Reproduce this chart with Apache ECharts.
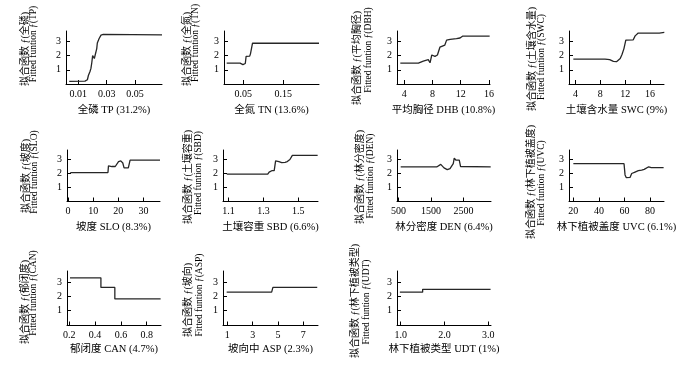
<!DOCTYPE html>
<html>
<head>
<meta charset="utf-8">
<script src="https://cdn.jsdelivr.net/npm/echarts@6/dist/echarts.min.js"></script>
<style>html,body{margin:0;padding:0;background:#fff;}#c{width:700px;height:370px;}</style>
</head>
<body>
<div id="c"></div>
<script>
// ---------- DATA ----------
const TP  = [[0.0036,0.18],[0.0147,0.2],[0.0164,0.3],[0.0171,0.6],[0.0183,0.9],[0.0189,1.1],[0.0195,1.5],[0.0201,2.0],[0.0208,2.05],[0.0213,1.8],[0.0218,1.9],[0.0224,1.8],[0.023,2.5],[0.0234,2.9],[0.0246,3.2],[0.026,3.45],[0.0276,3.5],[0.069,3.47]];
const TN  = [[0.0085,1.47],[0.042,1.47],[0.046,1.5],[0.049,1.37],[0.053,1.33],[0.055,1.45],[0.057,1.95],[0.066,1.97],[0.068,2.15],[0.071,2.2],[0.073,2.88],[0.239,2.88]];
const DBH = [[3.44,1.47],[6.0,1.47],[6.25,1.57],[6.7,1.62],[6.95,1.72],[7.4,1.72],[7.65,1.5],[7.9,2.05],[8.1,2.15],[8.35,1.95],[8.7,2.05],[8.85,1.95],[9.05,2.6],[9.3,2.65],[9.75,2.75],[10.0,3.1],[10.5,3.15],[11.4,3.2],[11.9,3.25],[12.25,3.38],[16.1,3.38]];
const SWC = [[3.65,1.76],[8.75,1.76],[9.5,1.72],[10.1,1.6],[10.6,1.58],[10.9,1.65],[11.2,1.8],[11.5,2.1],[11.8,2.5],[12.1,3.1],[13.3,3.12],[13.6,3.4],[14.1,3.6],[17.5,3.6],[18.3,3.65]];
const SLO = [[0.9,2.07],[15.9,2.07],[16.1,2.55],[16.8,2.55],[17.5,2.5],[18.1,2.45],[18.8,2.5],[19.4,2.6],[20.1,2.85],[21.0,2.9],[21.8,2.75],[22.3,2.4],[24.0,2.4],[24.7,2.95],[36.6,2.95]];
const SBD = [[1.09,1.95],[1.325,1.95],[1.333,2.1],[1.348,2.2],[1.362,2.2],[1.37,2.9],[1.38,3.0],[1.389,2.85],[1.405,2.78],[1.424,2.8],[1.437,2.85],[1.452,3.0],[1.458,3.05],[1.466,3.3],[1.611,3.3]];
const DEN = [[568,2.47],[1675,2.47],[1730,2.5],[1800,2.65],[1860,2.65],[1900,2.4],[1935,2.28],[2000,2.28],[2085,2.35],[2140,2.4],[2185,2.7],[2215,3.1],[2240,3.0],[2270,2.95],[2370,2.95],[2410,2.5],[3337,2.47]];
const UVC = [[20,2.7],[59.7,2.7],[60.5,1.9],[61.5,1.7],[64.4,1.72],[65.7,2.0],[68.3,2.1],[70.9,2.2],[73.5,2.25],[75.5,2.3],[77,2.42],[79,2.48],[81,2.42],[90.7,2.42]];
const CAN = [[0.205,3.32],[0.445,3.32],[0.445,2.64],[0.553,2.64],[0.553,1.82],[0.908,1.82]];
const ASP = [[0.95,2.3],[4.5,2.3],[4.6,2.64],[8.1,2.64]];
const UDT = [[0.98,2.3],[1.5,2.3],[1.5,2.5],[3.05,2.5]];

// tick labels
const tpTicks  = [0.01,0.03,0.05];
const tnTicks  = [0.05,0.15];
const dbhTicks = [4,8,12,16];
const swcTicks = [4,8,12,16];
const sloTicks = [0,10,20,30];
const sbdTicks = [1.1,1.3,1.5];
const denTicks = [500,1500,2500];
const uvcTicks = [20,40,60,80];
const canTicks = [0.2,0.4,0.6,0.8];
const aspTicks = [1,3,5,7];
const udtTicks = [1.0,2.0,3.0];
const yTicks   = [1,2,3];

// axis titles
const xTitles = ['全磷 TP (31.2%)','全氮 TN (13.6%)','平均胸径 DHB (10.8%)','土壤含水量 SWC (9%)',
                 '坡度 SLO (8.3%)','土壤容重 SBD (6.6%)','林分密度 DEN (6.4%)','林下植被盖度 UVC (6.1%)',
                 '郁闭度 CAN (4.7%)','坡向中 ASP (2.3%)','林下植被类型 UDT (1%)'];
const yNamesCn = ['全磷','全氮','平均胸径','土壤含水量','坡度','土壤容重','林分密度','林下植被盖度','郁闭度','坡向','林下植被类型'];
const yNamesEn = ['TP','TN','DBH','SWC','SLO','SBD','DEN','UVC','CAN','ASP','UDT'];

// ---------- LAYOUT ----------
const datasets = [TP,TN,DBH,SWC,SLO,SBD,DEN,UVC,CAN,ASP,UDT];
const ticks = [tpTicks,tnTicks,dbhTicks,swcTicks,sloTicks,sbdTicks,denTicks,uvcTicks,canTicks,aspTicks,udtTicks];
const plain = v => String(v);
const fmts = [plain,plain,plain,plain,plain,plain,plain,plain,plain,plain,v=>v.toFixed(1)];
const xr = [[0.00132,0.069],[0.0018,0.239],[2.97,16.15],[2.95,18.25],[-0.4,36.6],[1.0685,1.613],[454,3346],[16.6,91],[0.182,0.911],[0.66,8.16],[0.915,3.06]];
const boxes = [[66,31,96,53],[224,31,95,53],[397,31,93,53],[569,31,95,53],
               [67,150,93,51.5],[223,150,95,51.5],[397,150,94,51.5],[569,150,95,51.5],
               [67,271,94,54.5],[223,271,95,54.5],[397,271,94,54.5]];
const yr = [[0,3.745],[0,3.745],[0,3.745],[0,3.745],[0,3.68],[0,3.68],[0,3.68],[0,3.68],[-0.08,3.81],[-0.08,3.81],[-0.08,3.81]];
const cnPos = [[25,49],[187.7,49],[357.3,58],[532.3,59],[26,176],[188.3,177],[360,177],[531.7,182],[25,302],[188.3,300],[355,301]];
const enPos = [[33.5,44],[195.7,43],[368.3,50],[541,57],[34.3,172],[198.3,173],[370,176],[541,183],[33.3,293],[199,295],[366,302]];

const FONT = '"Liberation Serif", "Noto Sans CJK SC", serif';
const grid=[], xAxis=[], yAxis=[], series=[], graphic=[];
for (let i=0;i<datasets.length;i++){
  const b = boxes[i];
  grid.push({left:b[0], top:b[1], width:b[2], height:b[3], containLabel:false, outerBoundsMode:'none'});
  xAxis.push({gridIndex:i, type:'value', min:xr[i][0], max:xr[i][1],
    name:xTitles[i], nameLocation:'middle', nameGap: i>=8 ? 19 : 21,
    nameTextStyle:{fontSize:10.5, fontFamily:FONT, color:'#000'},
    axisLine:{show:true, onZero:false, lineStyle:{color:'#000', width:1}},
    axisTick:{show:true, inside:true, length:4, customValues:ticks[i], lineStyle:{color:'#000'}},
    axisLabel:{customValues:ticks[i], formatter:fmts[i], fontSize:10, fontFamily:FONT, color:'#000', margin:5},
    splitLine:{show:false}});
  yAxis.push({gridIndex:i, type:'value', min:yr[i][0], max:yr[i][1],
    axisLine:{show:true, onZero:false, lineStyle:{color:'#000', width:1}},
    axisTick:{show:true, inside:true, length:4, customValues:yTicks, lineStyle:{color:'#000'}},
    axisLabel:{customValues:yTicks, formatter:plain, fontSize:10, fontFamily:FONT, color:'#000', margin:5},
    splitLine:{show:false}});
  series.push({type:'line', xAxisIndex:i, yAxisIndex:i, data:datasets[i], showSymbol:false, symbol:'none',
    lineStyle:{color:'#262626', width:1.3}, animation:false, silent:true});
  graphic.push({type:'text', x:cnPos[i][0], y:cnPos[i][1], rotation:Math.PI/2,
    style:{text:'拟合函数 ƒ('+yNamesCn[i]+')', fontSize:10, fontFamily:FONT, fill:'#000', textAlign:'center', textVerticalAlign:'middle'}});
  graphic.push({type:'text', x:enPos[i][0], y:enPos[i][1], rotation:Math.PI/2,
    style:{text:'Fitted funtion ƒ('+yNamesEn[i]+')', fontSize:9.5, fontFamily:FONT, fill:'#000', textAlign:'center', textVerticalAlign:'middle'}});
}
const chart = echarts.init(document.getElementById('c'), null, {renderer:'canvas'});
chart.setOption({backgroundColor:'#fff', animation:false, grid, xAxis, yAxis, series, graphic});
</script>
</body>
</html>
